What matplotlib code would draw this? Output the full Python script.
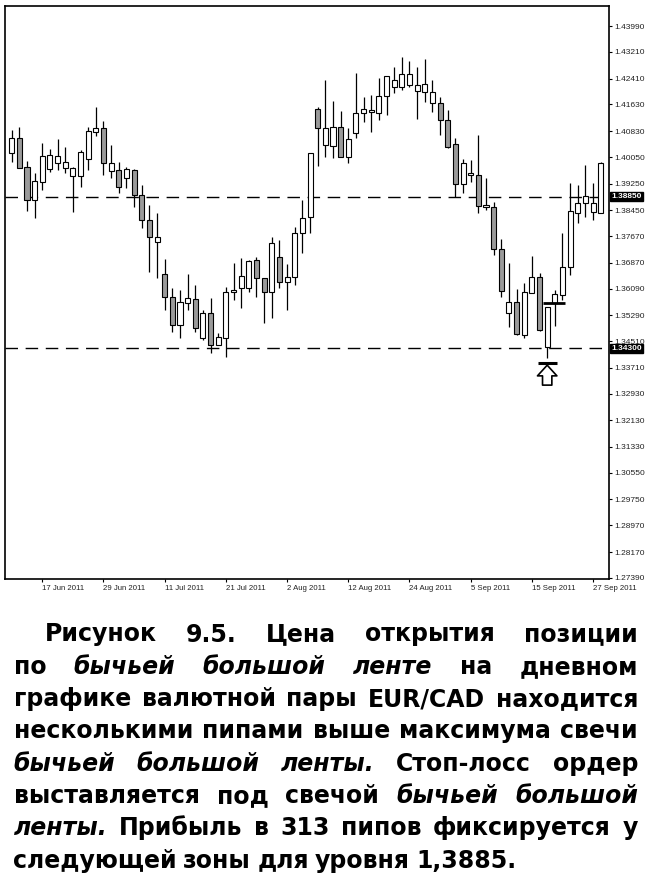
import matplotlib
matplotlib.use("Agg")
import matplotlib.pyplot as plt
import matplotlib.transforms as mtransforms

# EUR/CAD daily, 13 Jun 2011 .. 28 Sep 2011
opens = [1.4018, 1.4061, 1.3974, 1.3876, 1.3931, 1.3968, 1.3988, 1.3971, 1.3948, 1.3948,
         1.3999, 1.4081, 1.4091, 1.3963, 1.3966, 1.3941, 1.3966, 1.3891, 1.3816, 1.3750,
         1.3653, 1.3585, 1.3500, 1.3567, 1.3578, 1.3460, 1.3537, 1.3440, 1.3462, 1.3600,
         1.3610, 1.3610, 1.3695, 1.3640, 1.3600, 1.3703, 1.3630, 1.3645, 1.3776, 1.3825,
         1.4149, 1.4041, 1.4039, 1.4096, 1.4006, 1.4076, 1.4138, 1.4141, 1.4138, 1.4188,
         1.4215, 1.4216, 1.4222, 1.4204, 1.4201, 1.4168, 1.4168, 1.4116, 1.4044, 1.3924,
         1.3951, 1.3951, 1.3854, 1.3856, 1.3727, 1.3535, 1.3570, 1.3470, 1.3595, 1.3643,
         1.3433, 1.3565, 1.3590, 1.3673, 1.3838, 1.3868, 1.3841, 1.3838]
highs = [1.4086, 1.4094, 1.3994, 1.3958, 1.4046, 1.4028, 1.4058, 1.4034, 1.3976, 1.4026,
         1.4094, 1.4156, 1.4114, 1.4041, 1.3991, 1.3976, 1.3968, 1.3921, 1.3861, 1.3836,
         1.3697, 1.3610, 1.3605, 1.3653, 1.3620, 1.3545, 1.3580, 1.3475, 1.3615, 1.3685,
         1.3700, 1.3695, 1.3705, 1.3640, 1.3765, 1.3755, 1.3683, 1.3795, 1.3876, 1.4016,
         1.4156, 1.4237, 1.4173, 1.4144, 1.4091, 1.4259, 1.4186, 1.4191, 1.4242, 1.4249,
         1.4277, 1.4307, 1.4295, 1.4277, 1.4299, 1.4237, 1.4186, 1.4146, 1.4061, 1.3998,
         1.3996, 1.4071, 1.3941, 1.3871, 1.3758, 1.3687, 1.3607, 1.3627, 1.3707, 1.3655,
         1.3555, 1.3605, 1.3776, 1.3928, 1.3921, 1.3981, 1.3928, 1.3991]
lows = [1.3991, 1.3971, 1.3844, 1.3822, 1.3906, 1.3961, 1.3966, 1.3956, 1.3841, 1.3916,
        1.3966, 1.4068, 1.3951, 1.3941, 1.3896, 1.3911, 1.3856, 1.3791, 1.3660, 1.3640,
        1.3545, 1.3480, 1.3460, 1.3545, 1.3480, 1.3455, 1.3415, 1.3440, 1.3404, 1.3575,
        1.3550, 1.3600, 1.3585, 1.3505, 1.3520, 1.3610, 1.3545, 1.3620, 1.3715, 1.3776,
        1.3978, 1.4006, 1.4001, 1.4004, 1.3988, 1.4061, 1.4111, 1.4081, 1.4116, 1.4131,
        1.4197, 1.4207, 1.4216, 1.4118, 1.4171, 1.4141, 1.4071, 1.4031, 1.3886, 1.3896,
        1.3931, 1.3836, 1.3846, 1.3710, 1.3585, 1.3493, 1.3470, 1.3460, 1.3595, 1.3483,
        1.3400, 1.3497, 1.3575, 1.3650, 1.3806, 1.3825, 1.3816, 1.3836]
closes = [1.4061, 1.3971, 1.3876, 1.3933, 1.4009, 1.4011, 1.4008, 1.3989, 1.3973, 1.4021,
          1.4083, 1.4093, 1.3986, 1.3986, 1.3916, 1.3969, 1.3891, 1.3816, 1.3765, 1.3765,
          1.3585, 1.3500, 1.3568, 1.3580, 1.3490, 1.3537, 1.3440, 1.3465, 1.3600, 1.3605,
          1.3647, 1.3693, 1.3640, 1.3600, 1.3745, 1.3630, 1.3645, 1.3776, 1.3821, 1.4016,
          1.4091, 1.4091, 1.4096, 1.4006, 1.4058, 1.4136, 1.4148, 1.4146, 1.4188, 1.4249,
          1.4237, 1.4254, 1.4254, 1.4222, 1.4224, 1.4201, 1.4116, 1.4036, 1.3924, 1.3988,
          1.3956, 1.3858, 1.3860, 1.3727, 1.3603, 1.3570, 1.3473, 1.3600, 1.3643, 1.3485,
          1.3555, 1.3593, 1.3673, 1.3844, 1.3868, 1.3888, 1.3868, 1.3988]

date_labels = ["17 Jun 2011", "29 Jun 2011", "11 Jul 2011", "21 Jul 2011", "2 Aug 2011",
               "12 Aug 2011", "24 Aug 2011", "5 Sep 2011", "15 Sep 2011", "27 Sep 2011"]
date_label_bars = [4, 12, 20, 28, 36, 44, 52, 60, 68, 76]

price_ticks = [1.43990, 1.43210, 1.42410, 1.41630, 1.40830, 1.40050, 1.39250, 1.38450,
               1.37670, 1.36870, 1.36090, 1.35290, 1.34510, 1.33710, 1.32930, 1.32130,
               1.31330, 1.30550, 1.29750, 1.28970, 1.28170, 1.27390]

levels = [1.38850, 1.34300]      # resistance / support zones
signal_bar = 70                  # bullish belt hold candle
entry_price = 1.3565
stop_price = 1.3385

caption = [
    [("Рисунок", 0), ("9.5.", 0), ("Цена", 0), ("открытия", 0), ("позиции", 0)],
    [("по", 0), ("бычьей", 1), ("большой", 1), ("ленте", 1), ("на", 0), ("дневном", 0)],
    [("графике", 0), ("валютной", 0), ("пары", 0), ("EUR/CAD", 0), ("находится", 0)],
    [("несколькими", 0), ("пипами", 0), ("выше", 0), ("максимума", 0), ("свечи", 0)],
    [("бычьей", 1), ("большой", 1), ("ленты.", 1), ("Стоп-лосс", 0), ("ордер", 0)],
    [("выставляется", 0), ("под", 0), ("свечой", 0), ("бычьей", 1), ("большой", 1)],
    [("ленты.", 1), ("Прибыль", 0), ("в", 0), ("313", 0), ("пипов", 0), ("фиксируется", 0), ("у", 0)],
    [("следующей", 0), ("зоны", 0), ("для", 0), ("уровня", 0), ("1,3885.", 0)],
]

W, H = 650, 894
fig = plt.figure(figsize=(W / 100, H / 100), dpi=100)
fig.patch.set_facecolor("white")

# chart frame: x 5..609, y 6..579 px
ax = fig.add_axes([5 / W, 1 - 579 / H, 604 / W, 573 / H])
ax.set_xlim(-0.876, 78.08)
ax.set_ylim(1.27359, 1.44592)

n = len(opens)
for i in range(n):
    ax.vlines(i, lows[i], highs[i], color="black", lw=0.9, zorder=2)
    lo = min(opens[i], closes[i])
    hi = max(opens[i], closes[i])
    fc = "white" if closes[i] >= opens[i] else "#9a9a9a"
    ax.bar(i, max(hi - lo, 0.00005), bottom=lo, width=0.66, facecolor=fc,
           edgecolor="black", linewidth=0.8, zorder=3)

for lv in levels:
    ax.axhline(lv, color="black", lw=1.0, dashes=(9, 5.5), zorder=1)

# entry / stop markers and arrow at the signal candle
ax.hlines(entry_price, signal_bar - 0.5, signal_bar + 2.3, color="black", lw=2.0, zorder=4)
ax.hlines(stop_price, signal_bar - 1.2, signal_bar + 1.3, color="black", lw=2.2, zorder=4)
ax.annotate("", xy=(signal_bar, stop_price - 0.0006), xytext=(signal_bar, stop_price - 0.0066),
            arrowprops=dict(arrowstyle="simple,head_length=0.55,head_width=1.0,tail_width=0.48",
                            mutation_scale=14, fc="white", ec="black", lw=1.2,
                            shrinkA=0, shrinkB=0), zorder=5)

# axes styling
for sp in ax.spines.values():
    sp.set_linewidth(1.2)
    sp.set_color("black")

ax.yaxis.tick_right()
ax.set_yticks(price_ticks)
ax.set_yticklabels(["%.5f" % p for p in price_ticks])
ax.tick_params(axis="y", direction="out", length=2.5, width=0.8, pad=1.5,
               labelsize=6, labelcolor="#222222")
ax.set_xticks(date_label_bars)
ax.set_xticklabels(date_labels, ha="left")
ax.tick_params(axis="x", direction="out", length=2.5, width=0.8, pad=2,
               labelsize=5.6, labelcolor="#222222")
for lab in ax.get_xticklabels() + ax.get_yticklabels():
    lab.set_family("Liberation Sans")

ybox = mtransforms.blended_transform_factory(ax.transAxes, ax.transData)
for lv in levels:
    ax.text(1.004, lv, "%.5f" % lv, transform=ybox, ha="left", va="center",
            fontsize=6, color="white", family="Liberation Sans", fontweight="bold",
            bbox=dict(boxstyle="square,pad=0.12", fc="black", ec="black"),
            clip_on=False, zorder=10)

# caption, justified like the book text
cap_font = "DejaVu Sans"
fs = 17.0
left, right = 13.5, 638.0
base0 = 641.5
line_h = 32.3

fig.canvas.draw()
rend = fig.canvas.get_renderer()


def build(fsize):
    rows = []
    for i, line in enumerate(caption):
        objs = []
        for word, ital in line:
            t = fig.text(0, 0, word, fontsize=fsize, fontweight="bold",
                         style="italic" if ital else "normal", family=cap_font,
                         ha="left", va="baseline", color="black")
            objs.append(t)
        rows.append(objs)
    return rows


rows = build(fs)
space = 0.26 * fs * 100 / 72
widest = 0
for i, objs in enumerate(rows):
    ws = [t.get_window_extent(rend).width for t in objs]
    lft = 45.0 if i == 0 else left
    natural = sum(ws) + space * (len(ws) - 1)
    widest = max(widest, natural / (right - lft))
if widest > 1.0:
    for objs in rows:
        for t in objs:
            t.remove()
    fs = fs / widest * 0.995
    rows = build(fs)
    space = 0.26 * fs * 100 / 72

for i, objs in enumerate(rows):
    ws = [t.get_window_extent(rend).width for t in objs]
    lft = 45.0 if i == 0 else left
    if i < len(rows) - 1:
        gap = (right - lft - sum(ws)) / (len(ws) - 1)
    else:
        gap = space
    x = lft
    yb = base0 + i * line_h
    for t, w in zip(objs, ws):
        t.set_position((x / W, 1 - yb / H))
        x += w + gap

fig.savefig("out.png", dpi=100, facecolor="white")
